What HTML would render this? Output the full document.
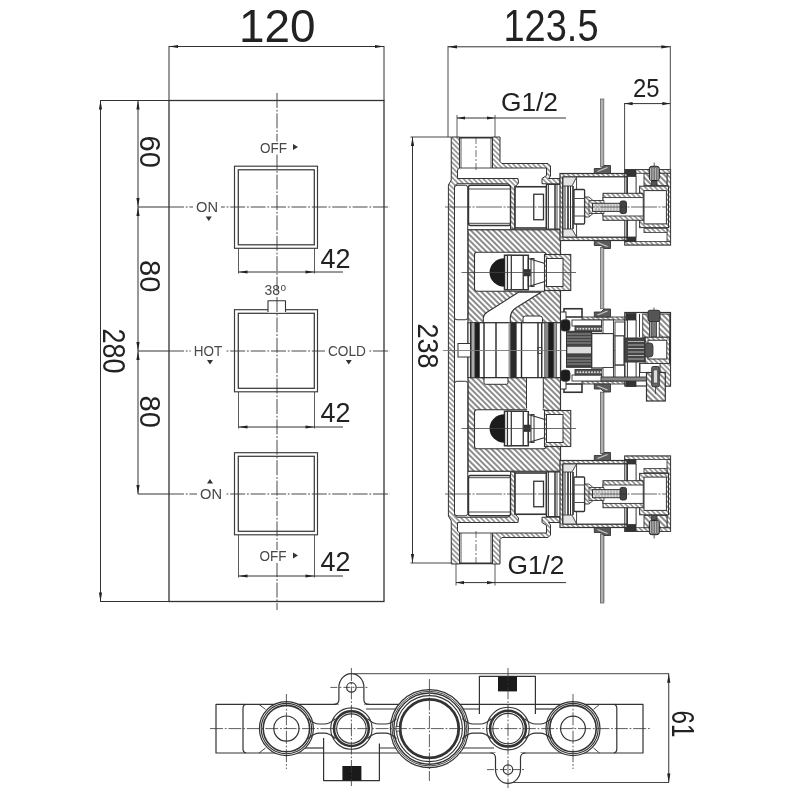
<!DOCTYPE html>
<html><head><meta charset="utf-8"><title>drawing</title>
<style>
html,body{margin:0;padding:0;background:#fff;}
svg{display:block;font-family:"Liberation Sans",sans-serif;filter:blur(0.35px);}
</style></head><body>
<svg width="800" height="800" viewBox="0 0 800 800">
<defs>
<pattern id="h1" width="4" height="4" patternUnits="userSpaceOnUse" patternTransform="rotate(45)"><rect width="4" height="4" fill="#fff"/><line x1="0" y1="2" x2="4" y2="2" stroke="#222" stroke-width="1.05"/></pattern>
<pattern id="h2" width="3.5" height="3.5" patternUnits="userSpaceOnUse" patternTransform="rotate(45)"><rect width="3.5" height="3.5" fill="#fff"/><line x1="0" y1="1.75" x2="3.5" y2="1.75" stroke="#3a3a3a" stroke-width="0.9"/></pattern>
</defs>
<rect width="800" height="800" fill="#fff"/>
<rect x="169" y="100.5" width="215" height="501" fill="none" stroke="#333" stroke-width="1.3"/>
<line x1="100" y1="100.5" x2="169" y2="100.5" stroke="#333" stroke-width="1.1"/>
<line x1="100" y1="601.5" x2="169" y2="601.5" stroke="#333" stroke-width="1.1"/>
<line x1="169" y1="46" x2="169" y2="100.5" stroke="#333" stroke-width="1.0"/>
<line x1="384" y1="46" x2="384" y2="100.5" stroke="#333" stroke-width="1.0"/>
<line x1="169" y1="46.5" x2="384" y2="46.5" stroke="#333" stroke-width="1"/>
<path d="M169 46.5 L178 44.9 L178 48.1 Z" fill="#222"/>
<path d="M384 46.5 L375 48.1 L375 44.9 Z" fill="#222"/>
<text x="239" y="41.5" font-size="45.5" fill="#222" text-anchor="start" font-weight="normal" textLength="76.5" lengthAdjust="spacingAndGlyphs">120</text>
<line x1="100.5" y1="100.5" x2="100.5" y2="601.5" stroke="#333" stroke-width="1"/>
<path d="M100.5 100.5 L102.1 109.5 L98.9 109.5 Z" fill="#222"/>
<path d="M100.5 601.5 L98.9 592.5 L102.1 592.5 Z" fill="#222"/>
<text transform="translate(103 328.5) rotate(90)" font-size="32" fill="#222" text-anchor="start" font-weight="normal" textLength="45" lengthAdjust="spacingAndGlyphs">280</text>
<line x1="138" y1="100.5" x2="138" y2="494" stroke="#333" stroke-width="1"/>
<path d="M138 100.5 L139.6 109.5 L136.4 109.5 Z" fill="#222"/>
<path d="M138 207 L136.4 198 L139.6 198 Z" fill="#222"/>
<path d="M138 207 L139.6 216 L136.4 216 Z" fill="#222"/>
<path d="M138 351 L136.4 342 L139.6 342 Z" fill="#222"/>
<path d="M138 351 L139.6 360 L136.4 360 Z" fill="#222"/>
<path d="M138 494 L136.4 485 L139.6 485 Z" fill="#222"/>
<text transform="translate(139.5 135.5) rotate(90)" font-size="30" fill="#222" text-anchor="start" font-weight="normal" textLength="32.5" lengthAdjust="spacingAndGlyphs">60</text>
<text transform="translate(139.5 260) rotate(90)" font-size="30" fill="#222" text-anchor="start" font-weight="normal" textLength="32.5" lengthAdjust="spacingAndGlyphs">80</text>
<text transform="translate(139.5 395.5) rotate(90)" font-size="30" fill="#222" text-anchor="start" font-weight="normal" textLength="32.5" lengthAdjust="spacingAndGlyphs">80</text>
<line x1="138" y1="207" x2="169" y2="207" stroke="#333" stroke-width="1"/>
<line x1="169" y1="207" x2="390" y2="207" stroke="#333" stroke-width="0.9" stroke-dasharray="15 1.8 1.8 1.8"/>
<line x1="138" y1="351" x2="169" y2="351" stroke="#333" stroke-width="1"/>
<line x1="169" y1="351" x2="390" y2="351" stroke="#333" stroke-width="0.9" stroke-dasharray="15 1.8 1.8 1.8"/>
<line x1="138" y1="494" x2="169" y2="494" stroke="#333" stroke-width="1"/>
<line x1="169" y1="494" x2="390" y2="494" stroke="#333" stroke-width="0.9" stroke-dasharray="15 1.8 1.8 1.8"/>
<rect x="234.5" y="166.2" width="83" height="82.1" fill="none" stroke="#3a3a3a" stroke-width="1.15"/>
<rect x="238.3" y="169.8" width="76" height="75" fill="none" stroke="#3a3a3a" stroke-width="1.25"/>
<line x1="238.5" y1="248.5" x2="238.5" y2="273.5" stroke="#333" stroke-width="0.8"/>
<line x1="314.5" y1="248.5" x2="314.5" y2="273.5" stroke="#333" stroke-width="0.8"/>
<line x1="238.5" y1="272" x2="343" y2="272" stroke="#333" stroke-width="1"/>
<path d="M238.5 272 L247.5 270.4 L247.5 273.6 Z" fill="#222"/>
<path d="M314.5 272 L305.5 273.6 L305.5 270.4 Z" fill="#222"/>
<text x="320.5" y="267.5" font-size="27" fill="#222" text-anchor="start" font-weight="normal" textLength="30" lengthAdjust="spacingAndGlyphs">42</text>
<rect x="234.5" y="309.7" width="83" height="82.1" fill="none" stroke="#3a3a3a" stroke-width="1.15"/>
<rect x="238.3" y="313.3" width="76" height="75" fill="none" stroke="#3a3a3a" stroke-width="1.25"/>
<line x1="238.5" y1="392" x2="238.5" y2="428.5" stroke="#333" stroke-width="0.8"/>
<line x1="314.5" y1="392" x2="314.5" y2="428.5" stroke="#333" stroke-width="0.8"/>
<line x1="238.5" y1="427" x2="343" y2="427" stroke="#333" stroke-width="1"/>
<path d="M238.5 427 L247.5 425.4 L247.5 428.6 Z" fill="#222"/>
<path d="M314.5 427 L305.5 428.6 L305.5 425.4 Z" fill="#222"/>
<text x="320.5" y="421.5" font-size="27" fill="#222" text-anchor="start" font-weight="normal" textLength="30" lengthAdjust="spacingAndGlyphs">42</text>
<rect x="234.5" y="452.7" width="83" height="82.1" fill="none" stroke="#3a3a3a" stroke-width="1.15"/>
<rect x="238.3" y="456.3" width="76" height="75" fill="none" stroke="#3a3a3a" stroke-width="1.25"/>
<line x1="238.5" y1="535" x2="238.5" y2="577.5" stroke="#333" stroke-width="0.8"/>
<line x1="314.5" y1="535" x2="314.5" y2="577.5" stroke="#333" stroke-width="0.8"/>
<line x1="238.5" y1="576" x2="343" y2="576" stroke="#333" stroke-width="1"/>
<path d="M238.5 576 L247.5 574.4 L247.5 577.6 Z" fill="#222"/>
<path d="M314.5 576 L305.5 577.6 L305.5 574.4 Z" fill="#222"/>
<text x="320.5" y="571" font-size="27" fill="#222" text-anchor="start" font-weight="normal" textLength="30" lengthAdjust="spacingAndGlyphs">42</text>
<rect x="268" y="300.75" width="17.5" height="11.75" fill="#fff"/>
<path d="M268 312 L268 300.75 L285.5 300.75 L285.5 312" fill="none" stroke="#333" stroke-width="1.1" stroke-linejoin="round"/>
<line x1="277" y1="93" x2="277" y2="610" stroke="#333" stroke-width="0.9" stroke-dasharray="15 1.8 1.8 1.8"/>
<rect x="257" y="141.5" width="33" height="13" fill="#fff"/>
<text x="260" y="152.5" font-size="14.5" fill="#484848" text-anchor="start" font-weight="normal" textLength="27" lengthAdjust="spacingAndGlyphs">OFF</text>
<rect x="256.5" y="550" width="33" height="13" fill="#fff"/>
<text x="259.5" y="561" font-size="14.5" fill="#484848" text-anchor="start" font-weight="normal" textLength="27" lengthAdjust="spacingAndGlyphs">OFF</text>
<rect x="193" y="201" width="28" height="13" fill="#fff"/>
<text x="196" y="212" font-size="14.5" fill="#484848" text-anchor="start" font-weight="normal" textLength="22" lengthAdjust="spacingAndGlyphs">ON</text>
<rect x="197" y="487.8" width="28" height="13" fill="#fff"/>
<text x="200" y="498.8" font-size="14.5" fill="#484848" text-anchor="start" font-weight="normal" textLength="22" lengthAdjust="spacingAndGlyphs">ON</text>
<rect x="190.75" y="344.5" width="34.5" height="13" fill="#fff"/>
<text x="193.75" y="355.5" font-size="14.5" fill="#484848" text-anchor="start" font-weight="normal" textLength="28.5" lengthAdjust="spacingAndGlyphs">HOT</text>
<rect x="325" y="344.5" width="44" height="13" fill="#fff"/>
<text x="328" y="355.5" font-size="14.5" fill="#484848" text-anchor="start" font-weight="normal" textLength="38" lengthAdjust="spacingAndGlyphs">COLD</text>
<text x="264.5" y="295" font-size="14.5" fill="#484848" text-anchor="start" font-weight="normal" textLength="15.5" lengthAdjust="spacingAndGlyphs">38</text>
<text x="280.5" y="291" font-size="10" fill="#484848" text-anchor="start" font-weight="normal">o</text>
<path d="M293 144 L298 147 L293 150 Z" fill="#333"/>
<path d="M293 552.5 L298 555.5 L293 558.5 Z" fill="#333"/>
<path d="M205.75 216.5 L211.75 216.5 L208.75 221.0 Z" fill="#333"/>
<path d="M207 360 L213 360 L210 364.5 Z" fill="#333"/>
<path d="M345.75 360 L351.75 360 L348.75 364.5 Z" fill="#333"/>
<path d="M207 483.5 L213 483.5 L210 479.0 Z" fill="#333"/>
<line x1="448" y1="46" x2="448" y2="137" stroke="#333" stroke-width="0.9"/>
<line x1="670.3" y1="46" x2="670.3" y2="170" stroke="#333" stroke-width="0.9"/>
<line x1="448" y1="46.8" x2="670.3" y2="46.8" stroke="#333" stroke-width="1"/>
<path d="M448 46.8 L457 45.2 L457 48.4 Z" fill="#222"/>
<path d="M670.3 46.8 L661.3 48.4 L661.3 45.2 Z" fill="#222"/>
<text x="503.5" y="41.2" font-size="45" fill="#222" text-anchor="start" font-weight="normal" textLength="95" lengthAdjust="spacingAndGlyphs">123.5</text>
<line x1="624.6" y1="103" x2="624.6" y2="170" stroke="#333" stroke-width="0.9"/>
<line x1="624.6" y1="103.6" x2="670.3" y2="103.6" stroke="#333" stroke-width="1"/>
<path d="M624.6 103.6 L632.6 102 L632.6 105.2 Z" fill="#222"/>
<path d="M670.3 103.6 L662.3 105.2 L662.3 102 Z" fill="#222"/>
<text x="633" y="97.2" font-size="26.5" fill="#222" text-anchor="start" font-weight="normal" textLength="26.5" lengthAdjust="spacingAndGlyphs">25</text>
<line x1="457" y1="115" x2="457" y2="137" stroke="#333" stroke-width="0.8"/>
<line x1="495" y1="115" x2="495" y2="137" stroke="#333" stroke-width="0.8"/>
<line x1="457" y1="118" x2="566" y2="118" stroke="#333" stroke-width="1"/>
<path d="M457 118 L465 116.4 L465 119.6 Z" fill="#222"/>
<path d="M495 118 L487 119.6 L487 116.4 Z" fill="#222"/>
<text x="501" y="110.5" font-size="25.5" fill="#222" text-anchor="start" font-weight="normal" textLength="57" lengthAdjust="spacingAndGlyphs">G1/2</text>
<line x1="456" y1="563" x2="456" y2="585.5" stroke="#333" stroke-width="0.8"/>
<line x1="495" y1="563" x2="495" y2="585.5" stroke="#333" stroke-width="0.8"/>
<line x1="456" y1="582.6" x2="566" y2="582.6" stroke="#333" stroke-width="1"/>
<path d="M456 582.6 L464 581 L464 584.2 Z" fill="#222"/>
<path d="M495 582.6 L487 584.2 L487 581 Z" fill="#222"/>
<text x="507.5" y="574" font-size="25.5" fill="#222" text-anchor="start" font-weight="normal" textLength="57" lengthAdjust="spacingAndGlyphs">G1/2</text>
<line x1="412.5" y1="137" x2="412.5" y2="563" stroke="#333" stroke-width="1"/>
<path d="M412.5 137 L414.1 146 L410.9 146 Z" fill="#222"/>
<path d="M412.5 563 L410.9 554 L414.1 554 Z" fill="#222"/>
<line x1="410.5" y1="137" x2="451" y2="137" stroke="#333" stroke-width="0.9"/>
<line x1="410.5" y1="563" x2="451" y2="563" stroke="#333" stroke-width="0.9"/>
<text transform="translate(417.5 323.5) rotate(90)" font-size="30" fill="#222" text-anchor="start" font-weight="normal" textLength="45" lengthAdjust="spacingAndGlyphs">238</text>
<rect x="600.5" y="99" width="3.3" height="68" fill="#b0b0b0" stroke="#666" stroke-width="0.8"/>
<rect x="600.5" y="534" width="3.3" height="68" fill="#b0b0b0" stroke="#666" stroke-width="0.8"/>
<rect x="600.5" y="247.5" width="3.3" height="61.25" fill="#b0b0b0" stroke="#666" stroke-width="0.8"/>
<rect x="600.5" y="392.25" width="3.3" height="61.25" fill="#b0b0b0" stroke="#666" stroke-width="0.8"/>
<rect x="600.5" y="392.25" width="3.3" height="61.25" fill="#b0b0b0" stroke="#666" stroke-width="0.8"/>
<rect x="600.5" y="534" width="3.3" height="69" fill="#b0b0b0" stroke="#666" stroke-width="0.8"/>
<rect x="468" y="229.75" width="92.5" height="241.5" fill="url(#h1)" stroke="#333" stroke-width="1.2"/>
<path d="M451.25 137 L459.5 137 L459.5 168 L457.5 170 L457.5 178.5 L518 178.5 L518.5 183 L515 187 L515 229 L510.5 229 L510.5 186 L508 183.75 L457 183.75 L454.5 186 L454.5 350.5 L448.4 350.5 L448.4 185 L451.25 180 Z" fill="url(#h2)" stroke="#333" stroke-width="1.0" stroke-linejoin="round"/>
<path d="M451.25 564 L459.5 564 L459.5 533 L457.5 531 L457.5 522.5 L518 522.5 L518.5 518 L515 514 L515 472 L510.5 472 L510.5 515 L508 517.25 L457 517.25 L454.5 515 L454.5 350.5 L448.4 350.5 L448.4 516 L451.25 521 Z" fill="url(#h2)" stroke="#333" stroke-width="1.0" stroke-linejoin="round"/>
<path d="M492.5 137 L500 137 L500 161.5 L502 163.5 L548 163.5 L550.5 166 L550.5 176 L548.5 178.5 L560 178.5 L560 183.75 L542 183.75 L542 178.5 L546.5 175.5 L546.5 168 L492.5 168 Z" fill="url(#h2)" stroke="#333" stroke-width="1.0" stroke-linejoin="round"/>
<path d="M492.5 564 L500 564 L500 539.5 L502 537.5 L548 537.5 L550.5 535 L550.5 525 L548.5 522.5 L560 522.5 L560 517.25 L542 517.25 L542 522.5 L546.5 525.5 L546.5 533 L492.5 533 Z" fill="url(#h2)" stroke="#333" stroke-width="1.0" stroke-linejoin="round"/>
<line x1="459.5" y1="168" x2="492.5" y2="168" stroke="#333" stroke-width="0.9"/>
<line x1="459.5" y1="533" x2="492.5" y2="533" stroke="#333" stroke-width="0.9"/>
<line x1="459.5" y1="137.6" x2="492.5" y2="137.6" stroke="#333" stroke-width="1.6"/>
<line x1="459.5" y1="563.4" x2="492.5" y2="563.4" stroke="#333" stroke-width="1.6"/>
<line x1="461" y1="137" x2="461" y2="168" stroke="#333" stroke-width="0.8"/>
<line x1="461" y1="564" x2="461" y2="533" stroke="#333" stroke-width="0.8"/>
<line x1="491" y1="137" x2="491" y2="168" stroke="#333" stroke-width="0.8"/>
<line x1="491" y1="564" x2="491" y2="533" stroke="#333" stroke-width="0.8"/>
<line x1="476" y1="137" x2="476" y2="172" stroke="#333" stroke-width="0.7" stroke-dasharray="7 2 2 2"/>
<line x1="476" y1="564" x2="476" y2="529" stroke="#333" stroke-width="0.7" stroke-dasharray="7 2 2 2"/>
<rect x="454.5" y="185.25" width="13.25" height="134.5" fill="#fff" stroke="#333" stroke-width="1.0" rx="2.5"/>
<rect x="454.5" y="381.25" width="13.25" height="134.5" fill="#fff" stroke="#333" stroke-width="1.0" rx="2.5"/>
<rect x="468.5" y="185.25" width="42" height="40.25" fill="#fff" stroke="#333" stroke-width="1.4" rx="2"/>
<rect x="468.5" y="475.5" width="42" height="40.25" fill="#fff" stroke="#333" stroke-width="1.4" rx="2"/>
<line x1="468.5" y1="189" x2="510.5" y2="189" stroke="#333" stroke-width="0.9"/>
<line x1="468.5" y1="512" x2="510.5" y2="512" stroke="#333" stroke-width="0.9"/>
<line x1="468.5" y1="223.3" x2="510.5" y2="223.3" stroke="#333" stroke-width="0.9"/>
<line x1="468.5" y1="477.7" x2="510.5" y2="477.7" stroke="#333" stroke-width="0.9"/>
<rect x="515" y="186.75" width="31.5" height="41.25" fill="#fff" stroke="#333" stroke-width="1.6"/>
<rect x="515" y="473" width="31.5" height="41.25" fill="#fff" stroke="#333" stroke-width="1.6"/>
<rect x="533.75" y="194.25" width="9.75" height="25.5" fill="none" stroke="#333" stroke-width="1.3"/>
<rect x="533.75" y="481.25" width="9.75" height="25.5" fill="none" stroke="#333" stroke-width="1.3"/>
<rect x="546.5" y="184.5" width="14" height="44.5" fill="#fff" stroke="#333" stroke-width="1.0"/>
<rect x="546.5" y="472" width="14" height="44.5" fill="#fff" stroke="#333" stroke-width="1.0"/>
<line x1="546.5" y1="184.5" x2="546.5" y2="229" stroke="#333" stroke-width="1.5"/>
<line x1="546.5" y1="516.5" x2="546.5" y2="472" stroke="#333" stroke-width="1.5"/>
<line x1="548.5" y1="184.5" x2="548.5" y2="229" stroke="#333" stroke-width="0.9"/>
<line x1="548.5" y1="516.5" x2="548.5" y2="472" stroke="#333" stroke-width="0.9"/>
<line x1="555" y1="184.5" x2="555" y2="229" stroke="#333" stroke-width="1.5"/>
<line x1="555" y1="516.5" x2="555" y2="472" stroke="#333" stroke-width="1.5"/>
<line x1="557" y1="184.5" x2="557" y2="229" stroke="#333" stroke-width="0.9"/>
<line x1="557" y1="516.5" x2="557" y2="472" stroke="#333" stroke-width="0.9"/>
<rect x="624.8" y="169.6" width="45.7" height="75.3" fill="#fff" stroke="#333" stroke-width="1.2"/>
<rect x="624.8" y="456.1" width="45.7" height="75.3" fill="#fff" stroke="#333" stroke-width="1.2"/>
<rect x="624.8" y="169.6" width="45.7" height="3.7" fill="url(#h2)" stroke="#333" stroke-width="0.8"/>
<rect x="624.8" y="527.7" width="45.7" height="3.7" fill="url(#h2)" stroke="#333" stroke-width="0.8"/>
<rect x="624.8" y="241.4" width="45.7" height="3.5" fill="url(#h2)" stroke="#333" stroke-width="0.8"/>
<rect x="624.8" y="456.1" width="45.7" height="3.5" fill="url(#h2)" stroke="#333" stroke-width="0.8"/>
<rect x="667" y="173.3" width="3.5" height="68.1" fill="url(#h2)" stroke="#333" stroke-width="0.8"/>
<rect x="667" y="459.6" width="3.5" height="68.1" fill="url(#h2)" stroke="#333" stroke-width="0.8"/>
<rect x="625.5" y="170" width="10.5" height="6.5" fill="#333" stroke="#333" stroke-width="0.8"/>
<rect x="625.5" y="524.5" width="10.5" height="6.5" fill="#333" stroke="#333" stroke-width="0.8"/>
<rect x="625.5" y="237" width="10.5" height="4.4" fill="#333" stroke="#333" stroke-width="0.8"/>
<rect x="625.5" y="459.6" width="10.5" height="4.4" fill="#333" stroke="#333" stroke-width="0.8"/>
<rect x="644" y="173.3" width="23" height="12.3" fill="url(#h1)" stroke="#333" stroke-width="0.9"/>
<rect x="644" y="515.4" width="23" height="12.3" fill="url(#h1)" stroke="#333" stroke-width="0.9"/>
<rect x="649.3" y="166.3" width="10" height="14.2" fill="#777" stroke="#222" stroke-width="1.0" rx="2.5"/>
<rect x="649.3" y="520.5" width="10" height="14.2" fill="#777" stroke="#222" stroke-width="1.0" rx="2.5"/>
<rect x="651.5" y="181" width="5.5" height="5" fill="#555" stroke="#333" stroke-width="0.8"/>
<rect x="651.5" y="515" width="5.5" height="5" fill="#555" stroke="#333" stroke-width="0.8"/>
<line x1="654.2" y1="162.5" x2="654.2" y2="166" stroke="#333" stroke-width="0.8"/>
<line x1="654.2" y1="538.5" x2="654.2" y2="535" stroke="#333" stroke-width="0.8"/>
<line x1="650.5" y1="168" x2="650.5" y2="180" stroke="#ddd" stroke-width="0.6"/>
<line x1="650.5" y1="533" x2="650.5" y2="521" stroke="#ddd" stroke-width="0.6"/>
<line x1="653" y1="168" x2="653" y2="180" stroke="#ddd" stroke-width="0.6"/>
<line x1="653" y1="533" x2="653" y2="521" stroke="#ddd" stroke-width="0.6"/>
<line x1="655.5" y1="168" x2="655.5" y2="180" stroke="#ddd" stroke-width="0.6"/>
<line x1="655.5" y1="533" x2="655.5" y2="521" stroke="#ddd" stroke-width="0.6"/>
<line x1="658" y1="168" x2="658" y2="180" stroke="#ddd" stroke-width="0.6"/>
<line x1="658" y1="533" x2="658" y2="521" stroke="#ddd" stroke-width="0.6"/>
<rect x="639.6" y="186.2" width="28.9" height="41.4" fill="url(#h2)" stroke="#333" stroke-width="1.0"/>
<rect x="639.6" y="473.4" width="28.9" height="41.4" fill="url(#h2)" stroke="#333" stroke-width="1.0"/>
<rect x="644" y="190.6" width="22.4" height="33.3" fill="#fff" stroke="#333" stroke-width="1.0"/>
<rect x="644" y="477.1" width="22.4" height="33.3" fill="#fff" stroke="#333" stroke-width="1.0"/>
<rect x="644" y="228.3" width="23" height="4.3" fill="url(#h2)" stroke="#333" stroke-width="0.8"/>
<rect x="644" y="468.4" width="23" height="4.3" fill="url(#h2)" stroke="#333" stroke-width="0.8"/>
<rect x="560" y="173.5" width="67" height="67" fill="url(#h2)" stroke="#333" stroke-width="1.2"/>
<rect x="560" y="460.5" width="67" height="67" fill="url(#h2)" stroke="#333" stroke-width="1.2"/>
<rect x="562.6" y="176.8" width="64.4" height="60.4" fill="#fff"/>
<rect x="562.6" y="463.8" width="64.4" height="60.4" fill="#fff"/>
<rect x="562.6" y="176.8" width="64.4" height="60.4" fill="none" stroke="#333" stroke-width="0.9"/>
<rect x="562.6" y="463.8" width="64.4" height="60.4" fill="none" stroke="#333" stroke-width="0.9"/>
<rect x="576.6" y="176.8" width="50.4" height="60.4" fill="none" stroke="#333" stroke-width="0.9"/>
<rect x="576.6" y="463.8" width="50.4" height="60.4" fill="none" stroke="#333" stroke-width="0.9"/>
<path d="M563 177 L576.6 177 L572 186 L563 186 Z" fill="#e4e4e4" stroke="#333" stroke-width="0.9" stroke-linejoin="round"/>
<path d="M563 524 L576.6 524 L572 515 L563 515 Z" fill="#e4e4e4" stroke="#333" stroke-width="0.9" stroke-linejoin="round"/>
<path d="M563 237 L576.6 237 L572 229 L563 229 Z" fill="#e4e4e4" stroke="#333" stroke-width="0.9" stroke-linejoin="round"/>
<path d="M563 464 L576.6 464 L572 472 L563 472 Z" fill="#e4e4e4" stroke="#333" stroke-width="0.9" stroke-linejoin="round"/>
<line x1="563" y1="186" x2="563" y2="229" stroke="#2a2a2a" stroke-width="1.0"/>
<line x1="563" y1="515" x2="563" y2="472" stroke="#2a2a2a" stroke-width="1.0"/>
<line x1="565" y1="186" x2="565" y2="229" stroke="#2a2a2a" stroke-width="1.0"/>
<line x1="565" y1="515" x2="565" y2="472" stroke="#2a2a2a" stroke-width="1.0"/>
<line x1="568" y1="186" x2="568" y2="229" stroke="#2a2a2a" stroke-width="1.6"/>
<line x1="568" y1="515" x2="568" y2="472" stroke="#2a2a2a" stroke-width="1.6"/>
<line x1="570.5" y1="186" x2="570.5" y2="229" stroke="#2a2a2a" stroke-width="1.0"/>
<line x1="570.5" y1="515" x2="570.5" y2="472" stroke="#2a2a2a" stroke-width="1.0"/>
<line x1="573" y1="186" x2="573" y2="229" stroke="#2a2a2a" stroke-width="1.6"/>
<line x1="573" y1="515" x2="573" y2="472" stroke="#2a2a2a" stroke-width="1.6"/>
<line x1="624.8" y1="173.5" x2="624.8" y2="240.5" stroke="#333" stroke-width="1.1"/>
<line x1="624.8" y1="527.5" x2="624.8" y2="460.5" stroke="#333" stroke-width="1.1"/>
<line x1="627.4" y1="176.5" x2="627.4" y2="237" stroke="#333" stroke-width="1.0"/>
<line x1="627.4" y1="524.5" x2="627.4" y2="464" stroke="#333" stroke-width="1.0"/>
<line x1="636.1" y1="176.5" x2="636.1" y2="237" stroke="#333" stroke-width="1.0"/>
<line x1="636.1" y1="524.5" x2="636.1" y2="464" stroke="#333" stroke-width="1.0"/>
<path d="M594.3 173.5 L594.3 168.5 L601 168.5 L604 165.5 L610.5 165.5 L610.5 173.5 Z" fill="#5c5c5c" stroke="#333" stroke-width="0.9" stroke-linejoin="round"/>
<path d="M594.3 527.5 L594.3 532.5 L601 532.5 L604 535.5 L610.5 535.5 L610.5 527.5 Z" fill="#5c5c5c" stroke="#333" stroke-width="0.9" stroke-linejoin="round"/>
<line x1="597.5" y1="171.5" x2="607.5" y2="167.5" stroke="#c8c8c8" stroke-width="1.3"/>
<line x1="597.5" y1="529.5" x2="607.5" y2="533.5" stroke="#c8c8c8" stroke-width="1.3"/>
<path d="M594.3 240.5 L594.3 245.5 L601 245.5 L604 248.5 L610.5 248.5 L610.5 240.5 Z" fill="#5c5c5c" stroke="#333" stroke-width="0.9" stroke-linejoin="round"/>
<path d="M594.3 460.5 L594.3 455.5 L601 455.5 L604 452.5 L610.5 452.5 L610.5 460.5 Z" fill="#5c5c5c" stroke="#333" stroke-width="0.9" stroke-linejoin="round"/>
<line x1="597.5" y1="242.5" x2="607.5" y2="246.5" stroke="#c8c8c8" stroke-width="1.3"/>
<line x1="597.5" y1="458.5" x2="607.5" y2="454.5" stroke="#c8c8c8" stroke-width="1.3"/>
<rect x="574" y="189.5" width="10.6" height="34.5" fill="#fff" stroke="#333" stroke-width="1.3" rx="1"/>
<rect x="574" y="477" width="10.6" height="34.5" fill="#fff" stroke="#333" stroke-width="1.3" rx="1"/>
<line x1="574.5" y1="198.5" x2="584.8" y2="198.5" stroke="#333" stroke-width="0.9"/>
<line x1="574.5" y1="502.5" x2="584.8" y2="502.5" stroke="#333" stroke-width="0.9"/>
<line x1="574.5" y1="216" x2="584.8" y2="216" stroke="#333" stroke-width="0.9"/>
<line x1="574.5" y1="485" x2="584.8" y2="485" stroke="#333" stroke-width="0.9"/>
<path d="M584.8 197 L589 197 L593 200.5 L604 200.5 L604 213.5 L593 213.5 L589 217 L584.8 217 Z" fill="url(#h2)" stroke="#333" stroke-width="0.9" stroke-linejoin="round"/>
<path d="M584.8 504 L589 504 L593 500.5 L604 500.5 L604 487.5 L593 487.5 L589 484 L584.8 484 Z" fill="url(#h2)" stroke="#333" stroke-width="0.9" stroke-linejoin="round"/>
<rect x="603" y="193.3" width="40.2" height="27" fill="url(#h2)" stroke="#333" stroke-width="1.0"/>
<rect x="603" y="480.7" width="40.2" height="27" fill="url(#h2)" stroke="#333" stroke-width="1.0"/>
<rect x="603" y="197.6" width="40.2" height="18.4" fill="#fff" stroke="#333" stroke-width="0.9"/>
<rect x="603" y="485" width="40.2" height="18.4" fill="#fff" stroke="#333" stroke-width="0.9"/>
<path d="M589 200.5 L604 200.5 L604 213.5 L589 213.5 Z" fill="url(#h2)" stroke="#333" stroke-width="0.8" stroke-linejoin="round"/>
<path d="M589 500.5 L604 500.5 L604 487.5 L589 487.5 Z" fill="url(#h2)" stroke="#333" stroke-width="0.8" stroke-linejoin="round"/>
<rect x="592.5" y="203.3" width="29.5" height="8.1" fill="#ddd" stroke="#333" stroke-width="1.0"/>
<rect x="592.5" y="489.6" width="29.5" height="8.1" fill="#ddd" stroke="#333" stroke-width="1.0"/>
<rect x="620" y="201" width="6.5" height="12.6" fill="#444" stroke="#333" stroke-width="1.0" rx="2"/>
<rect x="620" y="487.4" width="6.5" height="12.6" fill="#444" stroke="#333" stroke-width="1.0" rx="2"/>
<line x1="596" y1="203.3" x2="596" y2="211.4" stroke="#666" stroke-width="0.5"/>
<line x1="596" y1="497.7" x2="596" y2="489.6" stroke="#666" stroke-width="0.5"/>
<line x1="599" y1="203.3" x2="599" y2="211.4" stroke="#666" stroke-width="0.5"/>
<line x1="599" y1="497.7" x2="599" y2="489.6" stroke="#666" stroke-width="0.5"/>
<line x1="602" y1="203.3" x2="602" y2="211.4" stroke="#666" stroke-width="0.5"/>
<line x1="602" y1="497.7" x2="602" y2="489.6" stroke="#666" stroke-width="0.5"/>
<line x1="605" y1="203.3" x2="605" y2="211.4" stroke="#666" stroke-width="0.5"/>
<line x1="605" y1="497.7" x2="605" y2="489.6" stroke="#666" stroke-width="0.5"/>
<line x1="608" y1="203.3" x2="608" y2="211.4" stroke="#666" stroke-width="0.5"/>
<line x1="608" y1="497.7" x2="608" y2="489.6" stroke="#666" stroke-width="0.5"/>
<line x1="611" y1="203.3" x2="611" y2="211.4" stroke="#666" stroke-width="0.5"/>
<line x1="611" y1="497.7" x2="611" y2="489.6" stroke="#666" stroke-width="0.5"/>
<line x1="614" y1="203.3" x2="614" y2="211.4" stroke="#666" stroke-width="0.5"/>
<line x1="614" y1="497.7" x2="614" y2="489.6" stroke="#666" stroke-width="0.5"/>
<line x1="617" y1="203.3" x2="617" y2="211.4" stroke="#666" stroke-width="0.5"/>
<line x1="617" y1="497.7" x2="617" y2="489.6" stroke="#666" stroke-width="0.5"/>
<line x1="445" y1="207" x2="667" y2="207" stroke="#333" stroke-width="0.75" stroke-dasharray="26 1.5 2 1.5"/>
<line x1="445" y1="494" x2="667" y2="494" stroke="#333" stroke-width="0.75" stroke-dasharray="26 1.5 2 1.5"/>
<rect x="474.5" y="252.25" width="71.5" height="39" fill="#fff" stroke="#333" stroke-width="1.1" rx="2.5"/>
<rect x="474.5" y="409.75" width="71.5" height="39" fill="#fff" stroke="#333" stroke-width="1.1" rx="2.5"/>
<rect x="504.5" y="255.25" width="23.8" height="34.5" fill="#fff" stroke="#333" stroke-width="1.5"/>
<rect x="504.5" y="411.25" width="23.8" height="34.5" fill="#fff" stroke="#333" stroke-width="1.5"/>
<path d="M504.5 258.2 A15 14.3 0 0 0 504.5 286.8 Z" fill="#1c1c1c"/>
<path d="M504.5 442.8 A15 14.3 0 0 1 504.5 414.2 Z" fill="#1c1c1c"/>
<line x1="507.5" y1="255.25" x2="507.5" y2="289.75" stroke="#333" stroke-width="1.3"/>
<line x1="507.5" y1="445.75" x2="507.5" y2="411.25" stroke="#333" stroke-width="1.3"/>
<line x1="511.25" y1="255.25" x2="511.25" y2="289.75" stroke="#333" stroke-width="1.3"/>
<line x1="511.25" y1="445.75" x2="511.25" y2="411.25" stroke="#333" stroke-width="1.3"/>
<line x1="523.25" y1="255.25" x2="523.25" y2="289.75" stroke="#333" stroke-width="1.3"/>
<line x1="523.25" y1="445.75" x2="523.25" y2="411.25" stroke="#333" stroke-width="1.3"/>
<rect x="507.5" y="255.25" width="3.75" height="34.5" fill="#fff" stroke="#333" stroke-width="1.1"/>
<rect x="507.5" y="411.25" width="3.75" height="34.5" fill="#fff" stroke="#333" stroke-width="1.1"/>
<path d="M528.3 258.5 L545 263.5 L545 281.5 L528.3 286.5 Z" fill="none" stroke="#333" stroke-width="1.2" stroke-linejoin="round"/>
<path d="M528.3 442.5 L545 437.5 L545 419.5 L528.3 414.5 Z" fill="none" stroke="#333" stroke-width="1.2" stroke-linejoin="round"/>
<rect x="531" y="258.5" width="3" height="28" fill="none" stroke="#333" stroke-width="1.0"/>
<rect x="531" y="414.5" width="3" height="28" fill="none" stroke="#333" stroke-width="1.0"/>
<rect x="524" y="269.3" width="6.5" height="6.7" fill="#333" stroke="#333" stroke-width="0.5"/>
<rect x="524" y="425" width="6.5" height="6.7" fill="#333" stroke="#333" stroke-width="0.5"/>
<rect x="544.5" y="254.5" width="26.25" height="36" fill="url(#h2)" stroke="#333" stroke-width="1.1"/>
<rect x="544.5" y="410.5" width="26.25" height="36" fill="url(#h2)" stroke="#333" stroke-width="1.1"/>
<rect x="546.5" y="258.5" width="16.5" height="28" fill="#fff" stroke="#333" stroke-width="1.0"/>
<rect x="546.5" y="414.5" width="16.5" height="28" fill="#fff" stroke="#333" stroke-width="1.0"/>
<line x1="461.5" y1="272.5" x2="576" y2="272.5" stroke="#444" stroke-width="0.8"/>
<line x1="461.5" y1="428.5" x2="576" y2="428.5" stroke="#444" stroke-width="0.8"/>
<path d="M518.5 292.2 L541 292.2 L516.5 307.5 Q510.5 311 510.3 318 L510.3 323 L483.3 323 L483.3 318 Q483.5 314.5 487 312.3 Z" fill="#fff" stroke="#333" stroke-width="1.1" stroke-linejoin="round"/>
<path d="M523 322.75 L523 318.5 Q523 316 525.5 316 L540 316 Q542.5 316 542.5 318.5 L542.5 322.75 Z" fill="#fff" stroke="#333" stroke-width="1.0" stroke-linejoin="round"/>
<rect x="468" y="322.75" width="92.5" height="54.85" fill="#fff" stroke="#333" stroke-width="1.1"/>
<rect x="484" y="377.6" width="24" height="6.7" fill="#fff" stroke="#333" stroke-width="1.0" rx="1.5"/>
<rect x="526.5" y="377.6" width="16.8" height="30.3" fill="#fff" stroke="#333" stroke-width="1.0"/>
<rect x="527.1" y="405" width="15.6" height="6" fill="#fff"/>
<rect x="470.5" y="322.75" width="90" height="54.85" fill="#fff" stroke="#333" stroke-width="1.2"/>
<rect x="458" y="343.5" width="12.5" height="13.5" fill="#fff" stroke="#333" stroke-width="1.0"/>
<rect x="471.3" y="322.75" width="3.7" height="54.85" fill="#aaa" stroke="#333" stroke-width="0.6"/>
<rect x="475" y="322.75" width="4.5" height="54.85" fill="#1c1c1c" stroke="#333" stroke-width="0.6"/>
<line x1="484" y1="322.75" x2="484" y2="377.6" stroke="#262626" stroke-width="1.4"/>
<line x1="496" y1="322.75" x2="496" y2="377.6" stroke="#262626" stroke-width="1.4"/>
<line x1="521.5" y1="322.75" x2="521.5" y2="377.6" stroke="#262626" stroke-width="1.4"/>
<line x1="538" y1="322.75" x2="538" y2="377.6" stroke="#262626" stroke-width="1.4"/>
<line x1="541.75" y1="322.75" x2="541.75" y2="377.6" stroke="#262626" stroke-width="1.4"/>
<rect x="510.25" y="322.75" width="6" height="54.85" fill="#2a2a2a" stroke="#333" stroke-width="0.6"/>
<rect x="508.5" y="322.75" width="1.75" height="54.85" fill="#999"/>
<rect x="544.75" y="322.75" width="3.75" height="54.85" fill="#888" stroke="#333" stroke-width="0.6"/>
<rect x="548.5" y="322.75" width="5.25" height="54.85" fill="#1c1c1c" stroke="#333" stroke-width="0.6"/>
<rect x="553.75" y="322.75" width="3" height="54.85" fill="#999" stroke="#333" stroke-width="0.6"/>
<rect x="538" y="347.5" width="3.75" height="6" fill="none" stroke="#333" stroke-width="0.8"/>
<line x1="443" y1="350.5" x2="668" y2="350.5" stroke="#777" stroke-width="0.9"/>
<rect x="564" y="308.75" width="18" height="8.25" fill="#fff" stroke="#333" stroke-width="1.6"/>
<rect x="564" y="384" width="18" height="8.25" fill="#fff" stroke="#333" stroke-width="1.6"/>
<rect x="560.5" y="312" width="5.5" height="10" fill="#fff" stroke="#333" stroke-width="1.0"/>
<rect x="560.5" y="379" width="5.5" height="10" fill="#fff" stroke="#333" stroke-width="1.0"/>
<rect x="582" y="317" width="45" height="3" fill="url(#h2)" stroke="#333" stroke-width="0.9"/>
<rect x="582" y="381" width="45" height="3" fill="url(#h2)" stroke="#333" stroke-width="0.9"/>
<path d="M594.3 317 L594.3 312 L601 312 L604 309 L610.5 309 L610.5 317 Z" fill="#5c5c5c" stroke="#333" stroke-width="0.9" stroke-linejoin="round"/>
<path d="M594.3 384 L594.3 389 L601 389 L604 392 L610.5 392 L610.5 384 Z" fill="#5c5c5c" stroke="#333" stroke-width="0.9" stroke-linejoin="round"/>
<line x1="597.5" y1="315" x2="607.5" y2="311" stroke="#c8c8c8" stroke-width="1.3"/>
<line x1="597.5" y1="386" x2="607.5" y2="390" stroke="#c8c8c8" stroke-width="1.3"/>
<rect x="560.8" y="319.75" width="9.2" height="11.25" fill="#1c1c1c" stroke="#333" stroke-width="0.8" rx="3"/>
<rect x="560.8" y="370" width="9.2" height="11.25" fill="#1c1c1c" stroke="#333" stroke-width="0.8" rx="3"/>
<rect x="572" y="320" width="29.5" height="6" fill="#fff" stroke="#333" stroke-width="0.9"/>
<rect x="572" y="375" width="29.5" height="6" fill="#fff" stroke="#333" stroke-width="0.9"/>
<rect x="575" y="326" width="26.5" height="5.5" fill="#555" stroke="#333" stroke-width="0.9"/>
<rect x="575" y="369.5" width="26.5" height="5.5" fill="#555" stroke="#333" stroke-width="0.9"/>
<circle cx="577.5" cy="328.8" r="1" fill="#ddd" stroke="#333" stroke-width="0"/>
<circle cx="577.5" cy="372.2" r="1" fill="#ddd" stroke="#333" stroke-width="0"/>
<circle cx="580.4" cy="328.8" r="1" fill="#ddd" stroke="#333" stroke-width="0"/>
<circle cx="580.4" cy="372.2" r="1" fill="#ddd" stroke="#333" stroke-width="0"/>
<circle cx="583.3" cy="328.8" r="1" fill="#ddd" stroke="#333" stroke-width="0"/>
<circle cx="583.3" cy="372.2" r="1" fill="#ddd" stroke="#333" stroke-width="0"/>
<circle cx="586.2" cy="328.8" r="1" fill="#ddd" stroke="#333" stroke-width="0"/>
<circle cx="586.2" cy="372.2" r="1" fill="#ddd" stroke="#333" stroke-width="0"/>
<circle cx="589.1" cy="328.8" r="1" fill="#ddd" stroke="#333" stroke-width="0"/>
<circle cx="589.1" cy="372.2" r="1" fill="#ddd" stroke="#333" stroke-width="0"/>
<circle cx="592" cy="328.8" r="1" fill="#ddd" stroke="#333" stroke-width="0"/>
<circle cx="592" cy="372.2" r="1" fill="#ddd" stroke="#333" stroke-width="0"/>
<circle cx="594.9" cy="328.8" r="1" fill="#ddd" stroke="#333" stroke-width="0"/>
<circle cx="594.9" cy="372.2" r="1" fill="#ddd" stroke="#333" stroke-width="0"/>
<circle cx="597.8" cy="328.8" r="1" fill="#ddd" stroke="#333" stroke-width="0"/>
<circle cx="597.8" cy="372.2" r="1" fill="#ddd" stroke="#333" stroke-width="0"/>
<circle cx="600.7" cy="328.8" r="1" fill="#ddd" stroke="#333" stroke-width="0"/>
<circle cx="600.7" cy="372.2" r="1" fill="#ddd" stroke="#333" stroke-width="0"/>
<rect x="566.5" y="331.3" width="25" height="36" fill="#444" stroke="#333" stroke-width="1.0"/>
<line x1="567" y1="334" x2="591" y2="334" stroke="#aaa" stroke-width="0.8"/>
<line x1="567" y1="337" x2="591" y2="337" stroke="#aaa" stroke-width="0.8"/>
<line x1="567" y1="340" x2="591" y2="340" stroke="#aaa" stroke-width="0.8"/>
<line x1="567" y1="343" x2="591" y2="343" stroke="#aaa" stroke-width="0.8"/>
<line x1="567" y1="358" x2="591" y2="358" stroke="#aaa" stroke-width="0.8"/>
<line x1="567" y1="361" x2="591" y2="361" stroke="#aaa" stroke-width="0.8"/>
<line x1="567" y1="364" x2="591" y2="364" stroke="#aaa" stroke-width="0.8"/>
<rect x="567" y="346.3" width="24.5" height="7.5" fill="#ddd" stroke="#333" stroke-width="0.6"/>
<rect x="591.7" y="333.5" width="21.8" height="34.5" fill="#fff" stroke="#333" stroke-width="1.3"/>
<rect x="615" y="335.75" width="9" height="29.25" fill="#fff" stroke="#333" stroke-width="1.1"/>
<rect x="603" y="320" width="10.5" height="13.5" fill="#fff" stroke="#333" stroke-width="0.9"/>
<rect x="603" y="367.5" width="10.5" height="13.5" fill="#fff" stroke="#333" stroke-width="0.9"/>
<rect x="615" y="322" width="9.8" height="13.75" fill="#fff" stroke="#333" stroke-width="0.9"/>
<rect x="615" y="365.25" width="9.8" height="13.75" fill="#fff" stroke="#333" stroke-width="0.9"/>
<rect x="624.8" y="312.5" width="45.7" height="73.5" fill="none" stroke="#333" stroke-width="1.2"/>
<rect x="626" y="313.5" width="10" height="6.5" fill="#333" stroke="#333" stroke-width="0.8"/>
<rect x="626" y="378" width="10" height="8.5" fill="#333" stroke="#333" stroke-width="0.8"/>
<line x1="627.4" y1="320" x2="627.4" y2="378" stroke="#333" stroke-width="1.0"/>
<line x1="636.1" y1="320" x2="636.1" y2="378" stroke="#333" stroke-width="1.0"/>
<line x1="639.5" y1="314" x2="639.5" y2="337" stroke="#333" stroke-width="1.0"/>
<line x1="639.5" y1="363" x2="639.5" y2="380" stroke="#333" stroke-width="1.0"/>
<rect x="642.75" y="314" width="6.75" height="23.25" fill="url(#h1)" stroke="#333" stroke-width="0.9"/>
<rect x="659.25" y="314" width="10.5" height="23.25" fill="url(#h1)" stroke="#333" stroke-width="0.9"/>
<rect x="648" y="310.25" width="12" height="11.25" fill="#555" stroke="#333" stroke-width="1.0" rx="2"/>
<rect x="651" y="321.5" width="5.5" height="15.5" fill="#777" stroke="#333" stroke-width="0.8"/>
<line x1="654" y1="307.5" x2="654" y2="310.5" stroke="#333" stroke-width="0.8"/>
<rect x="645" y="337.25" width="24.5" height="26.25" fill="url(#h2)" stroke="#333" stroke-width="1.0"/>
<rect x="648" y="340.25" width="18.75" height="18.75" fill="#fff" stroke="#333" stroke-width="1.0"/>
<rect x="624.75" y="338" width="20.25" height="24" fill="#444" stroke="#333" stroke-width="1.0"/>
<line x1="628" y1="341.5" x2="644" y2="341.5" stroke="#bbb" stroke-width="0.9"/>
<line x1="628" y1="345" x2="644" y2="345" stroke="#bbb" stroke-width="0.9"/>
<line x1="628" y1="348.5" x2="644" y2="348.5" stroke="#bbb" stroke-width="0.9"/>
<line x1="628" y1="352" x2="644" y2="352" stroke="#bbb" stroke-width="0.9"/>
<line x1="628" y1="355.5" x2="644" y2="355.5" stroke="#bbb" stroke-width="0.9"/>
<line x1="628" y1="359" x2="644" y2="359" stroke="#bbb" stroke-width="0.9"/>
<rect x="645" y="343" width="8" height="14" fill="#555" stroke="#333" stroke-width="0.8" rx="3"/>
<rect x="640" y="363.5" width="29.5" height="9" fill="#fff" stroke="#333" stroke-width="0.9"/>
<rect x="660" y="363.5" width="10.5" height="22.5" fill="url(#h2)" stroke="#333" stroke-width="0.9"/>
<rect x="646.5" y="372.5" width="18.8" height="28.5" fill="url(#h1)" stroke="#333" stroke-width="1.2"/>
<rect x="651.75" y="366.5" width="7.5" height="20.25" fill="#666" stroke="#333" stroke-width="1.0" rx="1.5"/>
<rect x="653.5" y="370" width="4" height="13" fill="#ddd" stroke="#333" stroke-width="0.5"/>
<line x1="655.5" y1="386.75" x2="655.5" y2="394" stroke="#333" stroke-width="0.8"/>
<rect x="601" y="377" width="45.5" height="4" fill="#888" stroke="#333" stroke-width="0.9"/>
<line x1="351.4" y1="673.7" x2="669" y2="673.7" stroke="#333" stroke-width="0.9"/>
<line x1="508" y1="782.5" x2="669" y2="782.5" stroke="#333" stroke-width="0.9"/>
<line x1="668.75" y1="673.7" x2="668.75" y2="782.5" stroke="#333" stroke-width="1"/>
<path d="M668.75 673.7 L670.35 682.7 L667.15 682.7 Z" fill="#222"/>
<path d="M668.75 782.5 L667.15 773.5 L670.35 773.5 Z" fill="#222"/>
<text transform="translate(672 710.5) rotate(90)" font-size="31.5" fill="#222" text-anchor="start" font-weight="normal" textLength="27" lengthAdjust="spacingAndGlyphs">61</text>
<path d="M479.4 714 L479.4 676.4 L535.4 676.4 L535.4 714" fill="none" stroke="#333" stroke-width="1.2" stroke-linejoin="round"/>
<rect x="498" y="676.4" width="19" height="15" fill="#1a1a1a"/>
<path d="M323.6 738 L323.6 780.6 L379.4 780.6 L379.4 743.5" fill="none" stroke="#333" stroke-width="1.2" stroke-linejoin="round"/>
<rect x="342.4" y="766" width="19" height="14.6" fill="#1a1a1a"/>
<path d="M262 704.4 L216 704.4 L216 753 L262 753" fill="none" stroke="#333" stroke-width="1.2" stroke-linejoin="round"/>
<path d="M246 704.4 Q243 704.9 243 708.4 L243 749.0 Q243 752.5 246 753.0" fill="none" stroke="#333" stroke-width="1.2" stroke-linejoin="round"/>
<line x1="259" y1="704.4" x2="265.5" y2="709.4" stroke="#333" stroke-width="0.9"/>
<line x1="259" y1="753" x2="265.5" y2="748" stroke="#333" stroke-width="0.9"/>
<path d="M597 704.4 L643 704.4 L643 753 L597 753" fill="none" stroke="#333" stroke-width="1.2" stroke-linejoin="round"/>
<path d="M613.8 704.4 Q616.8 704.9 616.8 708.4 L616.8 749.0 Q616.8 752.5 613.8 753.0" fill="none" stroke="#333" stroke-width="1.2" stroke-linejoin="round"/>
<line x1="599.5" y1="704.4" x2="593.5" y2="709.4" stroke="#333" stroke-width="0.9"/>
<line x1="599.5" y1="753" x2="593.5" y2="748" stroke="#333" stroke-width="0.9"/>
<line x1="262" y1="704.4" x2="339" y2="704.4" stroke="#333" stroke-width="1.2"/>
<line x1="364" y1="704.4" x2="597" y2="704.4" stroke="#333" stroke-width="1.2"/>
<line x1="262" y1="753" x2="495.5" y2="753" stroke="#333" stroke-width="1.2"/>
<line x1="520.5" y1="753" x2="597" y2="753" stroke="#333" stroke-width="1.2"/>
<line x1="366" y1="709" x2="479.4" y2="709" stroke="#333" stroke-width="1.2"/>
<line x1="535.4" y1="709" x2="560" y2="709" stroke="#333" stroke-width="1.2"/>
<line x1="300" y1="748" x2="323.6" y2="748" stroke="#333" stroke-width="1.2"/>
<line x1="379.4" y1="748" x2="494" y2="748" stroke="#333" stroke-width="1.2"/>
<path d="M333.9 704.4 Q338.9 704.4 338.9 699.4 L338.9 687.4 A12.5 13.8 0 0 1 363.9 687.4 L363.9 699.4 Q363.9 704.4 368.9 704.4" fill="#fff" stroke="#333" stroke-width="1.2" stroke-linejoin="round"/>
<circle cx="351.4" cy="687.4" r="4.7" fill="none" stroke="#333" stroke-width="1.2"/>
<line x1="330.4" y1="687.4" x2="369.4" y2="687.4" stroke="#333" stroke-width="0.8" stroke-dasharray="7 2 2 2"/>
<path d="M490.5 753 Q495.5 753 495.5 758 L495.5 769.6 A12.5 13.8 0 0 0 520.5 769.6 L520.5 758 Q520.5 753 525.5 753" fill="#fff" stroke="#333" stroke-width="1.2" stroke-linejoin="round"/>
<circle cx="508" cy="769.6" r="4.7" fill="none" stroke="#333" stroke-width="1.2"/>
<line x1="487" y1="769.6" x2="526" y2="769.6" stroke="#333" stroke-width="0.8" stroke-dasharray="7 2 2 2"/>
<circle cx="286.4" cy="728.6" r="27" fill="#fff" stroke="#333" stroke-width="1.2"/>
<circle cx="286.4" cy="728.6" r="25.2" fill="none" stroke="#333" stroke-width="1.1"/>
<circle cx="286.4" cy="728.6" r="23.2" fill="none" stroke="#333" stroke-width="1.6"/>
<circle cx="286.4" cy="728.6" r="12.6" fill="none" stroke="#333" stroke-width="1.2"/>
<circle cx="573" cy="728.6" r="27" fill="#fff" stroke="#333" stroke-width="1.2"/>
<circle cx="573" cy="728.6" r="25.2" fill="none" stroke="#333" stroke-width="1.1"/>
<circle cx="573" cy="728.6" r="23.2" fill="none" stroke="#333" stroke-width="1.6"/>
<circle cx="573" cy="728.6" r="12.4" fill="none" stroke="#333" stroke-width="1.2"/>
<circle cx="351.4" cy="728.6" r="20.7" fill="#fff" stroke="#333" stroke-width="1.1"/>
<circle cx="351.4" cy="728.6" r="17.4" fill="none" stroke="#333" stroke-width="2.5"/>
<circle cx="351.4" cy="728.6" r="14.7" fill="none" stroke="#333" stroke-width="1.1"/>
<circle cx="508" cy="728.6" r="21.3" fill="#fff" stroke="#333" stroke-width="1.1"/>
<circle cx="508" cy="728.6" r="17.9" fill="none" stroke="#333" stroke-width="2.5"/>
<circle cx="508" cy="728.6" r="15.2" fill="none" stroke="#333" stroke-width="1.1"/>
<circle cx="429.4" cy="728.6" r="39" fill="#fff" stroke="#333" stroke-width="1.2"/>
<circle cx="429.4" cy="728.6" r="37.3" fill="none" stroke="#333" stroke-width="0.9"/>
<circle cx="429.4" cy="728.6" r="35.6" fill="none" stroke="#333" stroke-width="1.4"/>
<circle cx="429.4" cy="728.6" r="33" fill="none" stroke="#333" stroke-width="1.1"/>
<circle cx="429.4" cy="728.6" r="29.3" fill="none" stroke="#333" stroke-width="2.8"/>
<path d="M308.24 718.6 Q314.24 724 319.24 724 L324.36 724 Q329.36 724 335.36 718.6" fill="none" stroke="#333" stroke-width="1.2" stroke-linejoin="round"/>
<path d="M308.24 738.6 Q314.24 733.2 319.24 733.2 L324.36 733.2 Q329.36 733.2 335.36 738.6" fill="none" stroke="#333" stroke-width="1.2" stroke-linejoin="round"/>
<path d="M367.44 718.6 Q373.44 724 378.44 724 L385.52 724 Q390.52 724 396.52 718.6" fill="none" stroke="#333" stroke-width="1.2" stroke-linejoin="round"/>
<path d="M367.44 738.6 Q373.44 733.2 378.44 733.2 L385.52 733.2 Q390.52 733.2 396.52 738.6" fill="none" stroke="#333" stroke-width="1.2" stroke-linejoin="round"/>
<path d="M462.28 718.6 Q468.28 724 473.28 724 L480.4 724 Q485.4 724 491.4 718.6" fill="none" stroke="#333" stroke-width="1.2" stroke-linejoin="round"/>
<path d="M462.28 738.6 Q468.28 733.2 473.28 733.2 L480.4 733.2 Q485.4 733.2 491.4 738.6" fill="none" stroke="#333" stroke-width="1.2" stroke-linejoin="round"/>
<path d="M524.6 718.6 Q530.6 724 535.6 724 L540.16 724 Q545.16 724 551.16 718.6" fill="none" stroke="#333" stroke-width="1.2" stroke-linejoin="round"/>
<path d="M524.6 738.6 Q530.6 733.2 535.6 733.2 L540.16 733.2 Q545.16 733.2 551.16 738.6" fill="none" stroke="#333" stroke-width="1.2" stroke-linejoin="round"/>
<rect x="396" y="726.5" width="3.5" height="4.5" fill="#fff" stroke="#333" stroke-width="0.8"/>
<line x1="210" y1="728.6" x2="650" y2="728.6" stroke="#333" stroke-width="0.8" stroke-dasharray="13 1.8 1.8 1.8"/>
<line x1="286.4" y1="694" x2="286.4" y2="769" stroke="#333" stroke-width="0.8" stroke-dasharray="13 1.8 1.8 1.8"/>
<line x1="573" y1="694" x2="573" y2="769" stroke="#333" stroke-width="0.8" stroke-dasharray="13 1.8 1.8 1.8"/>
<line x1="351.4" y1="668" x2="351.4" y2="786" stroke="#333" stroke-width="0.8" stroke-dasharray="13 1.8 1.8 1.8"/>
<line x1="508" y1="668" x2="508" y2="788" stroke="#333" stroke-width="0.8" stroke-dasharray="13 1.8 1.8 1.8"/>
<line x1="429.4" y1="679" x2="429.4" y2="781" stroke="#333" stroke-width="0.8" stroke-dasharray="13 1.8 1.8 1.8"/>
</svg>
</body></html>
